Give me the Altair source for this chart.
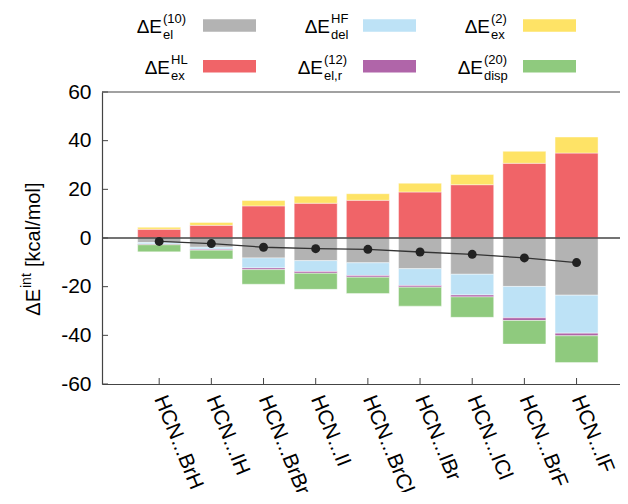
import altair as alt
import pandas as pd

# ---- data ----
labels = ["HCN...BrH", "HCN...IH", "HCN...BrBr", "HCN...II", "HCN...BrCl",
          "HCN...IBr", "HCN...ICl", "HCN...BrF", "HCN...IF"]
el10   = [-1.9, -3.8, -8.2, -9.3, -10.2, -12.6, -14.9, -19.9, -23.5]
del_hf = [-0.6, -0.8, -4.1, -4.5, -5.2, -6.9, -8.5, -12.9, -15.6]
elr12  = [-0.3, -0.4, -0.7, -0.7, -0.7, -0.7, -0.8, -1.1, -1.1]
disp20 = [-2.9, -3.6, -6.0, -6.6, -6.7, -7.8, -8.4, -9.7, -11.0]
ex_hl  = [3.6, 5.2, 13.2, 14.3, 15.5, 18.9, 21.9, 30.7, 34.9]
ex2    = [0.8, 1.2, 2.2, 2.9, 2.7, 3.6, 4.2, 4.9, 6.6]
total  = [-1.4, -2.3, -3.8, -4.4, -4.65, -5.75, -6.7, -8.2, -10.1]
y_ticks = [-60, -40, -20, 0, 20, 40, 60]

# component name, values, superscript, subscript, colour (stack order = list order)
components = [
    ("exHL", ex_hl, "HL", "ex", "#f06468"),
    ("ex2", ex2, "(2)", "ex", "#fee366"),
    ("el10", el10, "(10)", "el", "#b3b3b3"),
    ("delHF", del_hf, "HF", "del", "#bde2f6"),
    ("elr12", elr12, "(12)", "el,r", "#b065a9"),
    ("disp20", disp20, "(20)", "disp", "#8fca7e"),
]

FONT = "Liberation Sans"
W, H = 518, 292
STEP = 53.2
pos = list(range(1, len(labels) + 1))

rows = []
for k, (name, vals, sup, sub, col) in enumerate(components):
    for p, v in zip(pos, vals):
        rows.append({"pos": p, "comp": name, "value": v, "ord": k})
bars_df = pd.DataFrame(rows)
tot_df = pd.DataFrame({"pos": pos, "total": total})

xscale = alt.Scale(domain=[0, W / STEP], nice=False, zero=False)
yscale = alt.Scale(domain=[-60, 60], nice=False)

label_arr = "[" + ",".join("'" + l + "'" for l in labels) + "]"

bars = alt.Chart(bars_df).mark_bar(size=43, stroke="#ffffff", strokeWidth=0.6, strokeOpacity=0.7).encode(
    x=alt.X("pos:Q", scale=xscale, axis=alt.Axis(
        values=pos, labelExpr=label_arr + "[datum.value - 1]", title=None, grid=False,
        tickSize=0, labelAngle=68, labelAlign="left", labelBaseline="middle",
        labelPadding=12, labelFontSize=21, labelFont=FONT, labelColor="#000000",
        labelOverlap=False, labelBound=False, labelFlush=False,
        domainColor="#444444", domainWidth=1.2)),
    y=alt.Y("value:Q", stack="zero", scale=yscale, axis=alt.Axis(
        values=y_ticks, labelExpr="toString(datum.value)", title=None, grid=False,
        tickSize=0, labelPadding=11, labelFontSize=21, labelFont=FONT,
        labelColor="#000000", domainColor="#444444", domainWidth=1.2)),
    color=alt.Color("comp:N", scale=alt.Scale(domain=[c[0] for c in components],
                                              range=[c[4] for c in components]), legend=None),
    order=alt.Order("ord:Q"),
)

zero = alt.Chart(pd.DataFrame({"z": [0]})).mark_rule(color="#444444", strokeWidth=1.5).encode(
    y=alt.Y("z:Q", scale=yscale))

line = alt.Chart(tot_df).mark_line(color="#333333", strokeWidth=1.3).encode(
    x=alt.X("pos:Q", scale=xscale), y=alt.Y("total:Q", scale=yscale))
pts = alt.Chart(tot_df).mark_point(filled=True, size=80, color="#222222", opacity=1).encode(
    x=alt.X("pos:Q", scale=xscale), y=alt.Y("total:Q", scale=yscale))

# inward ticks and top frame
ytk = alt.Chart(pd.DataFrame({"v": y_ticks})).mark_rule(color="#444444", strokeWidth=1).encode(
    y=alt.Y("v:Q", scale=yscale), x=alt.value(0), x2=alt.value(6))
xtk = alt.Chart(pd.DataFrame({"pos": pos})).mark_rule(color="#444444", strokeWidth=1).encode(
    x=alt.X("pos:Q", scale=xscale), y=alt.value(H), y2=alt.value(H - 6))
one = pd.DataFrame({"a": [0]})
top = alt.Chart(one).mark_rule(color="#444444", strokeWidth=1.2).encode(
    x=alt.value(0), x2=alt.value(W + 10), y=alt.value(0))

layers = [bars, zero, line, pts, ytk, xtk, top]

# ---- custom legend (3 columns x 2 rows) ----
legend_order = ["el10", "delHF", "ex2", "exHL", "elr12", "disp20"]
e_end = [60, 228, 388, 68, 221, 381]
base_y = [-58.7, -58.7, -58.7, -18, -18, -18]
sw_x = [101, 261, 421, 101, 261, 421]
sw_y = [-72.7, -72.7, -72.7, -32, -32, -32]
comp_map = {c[0]: c for c in components}
for i, name in enumerate(legend_order):
    _, _, sup, sub, col = comp_map[name]
    layers.append(alt.Chart(one).mark_text(align="right", baseline="alphabetic", fontSize=19,
                                           font=FONT, color="#000000").encode(
        x=alt.value(e_end[i]), y=alt.value(base_y[i]), text=alt.value("ΔE")))
    layers.append(alt.Chart(one).mark_text(align="left", baseline="alphabetic", fontSize=13,
                                           font=FONT, color="#000000").encode(
        x=alt.value(e_end[i] + 1), y=alt.value(base_y[i] - 10), text=alt.value(sup)))
    layers.append(alt.Chart(one).mark_text(align="left", baseline="alphabetic", fontSize=13,
                                           font=FONT, color="#000000").encode(
        x=alt.value(e_end[i] + 1), y=alt.value(base_y[i] + 6), text=alt.value(sub)))
    layers.append(alt.Chart(one).mark_rect(color=col).encode(
        x=alt.value(sw_x[i]), x2=alt.value(sw_x[i] + 53),
        y=alt.value(sw_y[i]), y2=alt.value(sw_y[i] + 12.4)))

# ---- rotated y title: ΔE^int [kcal/mol] ----
layers.append(alt.Chart(one).mark_text(angle=270, align="right", baseline="alphabetic",
                                       fontSize=20, font=FONT, color="#000000").encode(
    x=alt.value(-62), y=alt.value(197), text=alt.value("ΔE")))
layers.append(alt.Chart(one).mark_text(angle=270, align="left", baseline="alphabetic",
                                       fontSize=14, font=FONT, color="#000000").encode(
    x=alt.value(-71), y=alt.value(196), text=alt.value("int")))
layers.append(alt.Chart(one).mark_text(angle=270, align="left", baseline="alphabetic",
                                       fontSize=20, font=FONT, color="#000000").encode(
    x=alt.value(-62), y=alt.value(175), text=alt.value("[kcal/mol]")))

chart = alt.layer(*layers).properties(
    width=W, height=H,
    autosize=alt.AutoSizeParams(type="none"),
    padding={"left": 94, "top": 84, "right": 0, "bottom": 108},
).configure_view(stroke=None)

chart.save("out.html", embed_options={"renderer": "svg", "actions": False})
